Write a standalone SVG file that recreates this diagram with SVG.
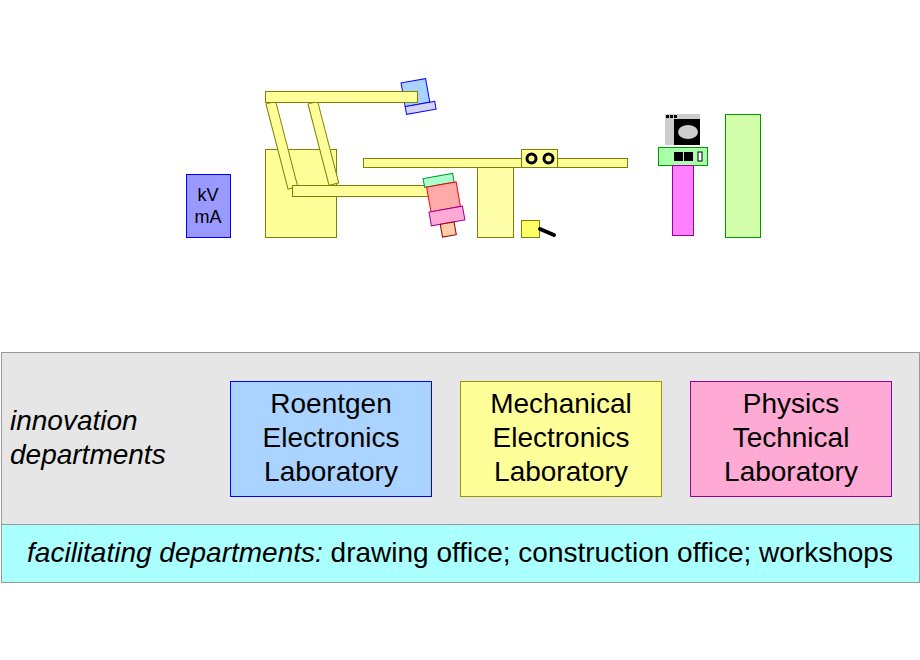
<svg xmlns="http://www.w3.org/2000/svg" width="920" height="660" viewBox="0 0 920 660">
<style>
text{font-family:"Liberation Sans",Arial,sans-serif;fill:#000}
.y{fill:#ffff99;stroke:#808000;stroke-width:1}
.t{font-size:28px;text-anchor:middle}
</style>
<rect width="920" height="660" fill="#fff"/>
<g id="kvma"><rect x="186.5" y="174.5" width="44" height="63" fill="#9999ff" stroke="#0000ff"/>
<text x="208" y="201" font-size="18" text-anchor="middle">kV</text><text x="208" y="223" font-size="18" text-anchor="middle">mA</text></g>
<g id="stand">
<rect class="y" x="265.5" y="149.5" width="71" height="88"/>
<rect class="y" x="0" y="0" width="10" height="88" transform="translate(266,104) rotate(-14.5)"/>
<rect class="y" x="0" y="0" width="10" height="84" transform="translate(308,104) rotate(-14.5)"/>
<rect class="y" x="292.5" y="185.5" width="142" height="11"/>
</g>
<g id="detector" transform="rotate(-10 416 96)">
<rect x="403.5" y="80.5" width="25" height="24" fill="#aad4ff" stroke="#0000ff"/>
<rect x="403.5" y="104.5" width="30" height="8" fill="#d4d4ff" stroke="#0000ff"/>
</g>
<rect class="y" x="265.5" y="91.5" width="152" height="11"/>
<g id="tube" transform="rotate(-10 446 205)">
<rect x="428" y="175" width="30" height="9" fill="#aaffcc" stroke="#009933"/>
<rect x="430" y="184" width="30" height="25" fill="#ffaaaa" stroke="#ff0000"/>
<rect x="428" y="209" width="34" height="14" fill="#ffaad4" stroke="#990099"/>
<rect x="437" y="223" width="14" height="13" fill="#ffccaa" stroke="#990000"/>
</g>
<g id="table">
<rect x="477.5" y="167.5" width="36" height="70" fill="#ffffaa" stroke="#808000"/>
<rect class="y" x="363.5" y="158.5" width="264" height="9"/>
<rect class="y" x="521.5" y="149.5" width="36" height="18"/>
<circle cx="531.5" cy="158.5" r="4.5" fill="none" stroke="#000" stroke-width="3"/>
<circle cx="548.5" cy="158.5" r="4.5" fill="none" stroke="#000" stroke-width="3"/>
<rect x="521.5" y="220.5" width="18" height="17" fill="#ffff66" stroke="#808000"/>
<line x1="540" y1="229" x2="554" y2="235" stroke="#000" stroke-width="4" stroke-linecap="round"/>
</g>
<g id="console">
<rect x="665" y="114" width="35" height="31" fill="#cccccc"/>
<rect x="674" y="119" width="26" height="26" fill="#000"/>
<ellipse cx="688" cy="132" rx="10" ry="7" fill="#cccccc"/>
<rect x="666" y="115" width="3" height="3" fill="#000"/><rect x="670" y="115" width="3" height="3" fill="#000"/><rect x="674" y="115" width="3" height="3" fill="#000"/>
<rect x="658.5" y="147.5" width="49" height="18" fill="#aaffaa" stroke="#009900"/>
<rect x="674" y="152" width="9" height="9" fill="#000"/><rect x="684" y="152" width="9" height="9" fill="#000"/>
<rect x="698" y="152" width="4" height="9" fill="#fff" stroke="#000"/>
<rect x="672.5" y="165.5" width="21" height="70" fill="#ff80ff" stroke="#990099"/>
</g>
<g id="cabinet"><rect x="725.5" y="114.5" width="35" height="123" fill="#d4ffaa" stroke="#009900"/></g>
<g id="innovation">
<rect x="1.5" y="352.5" width="918" height="172" fill="#e6e6e6" stroke="#999"/>
<text x="10" y="430" font-size="28" font-style="italic">innovation</text>
<text x="10" y="464" font-size="28" font-style="italic">departments</text>
</g>
<g id="relab"><rect x="230.5" y="381.5" width="201" height="115" fill="#aad4ff" stroke="#0000ff"/>
<text class="t" x="331" y="413">Roentgen</text><text class="t" x="331" y="447">Electronics</text><text class="t" x="331" y="481">Laboratory</text></g>
<g id="melab"><rect x="460.5" y="381.5" width="201" height="115" fill="#ffff99" stroke="#999900"/>
<text class="t" x="561" y="413">Mechanical</text><text class="t" x="561" y="447">Electronics</text><text class="t" x="561" y="481">Laboratory</text></g>
<g id="ptlab"><rect x="690.5" y="381.5" width="201" height="115" fill="#ffaad4" stroke="#990099"/>
<text class="t" x="791" y="413">Physics</text><text class="t" x="791" y="447">Technical</text><text class="t" x="791" y="481">Laboratory</text></g>
<g id="facilitating">
<rect x="1.5" y="524.5" width="918" height="58" fill="#aaffff" stroke="#999"/>
<text x="460" y="562" font-size="28" text-anchor="middle"><tspan font-style="italic">facilitating departments:</tspan> drawing office; construction office; workshops</text>
</g>
<g id="connectors"/>
</svg>
